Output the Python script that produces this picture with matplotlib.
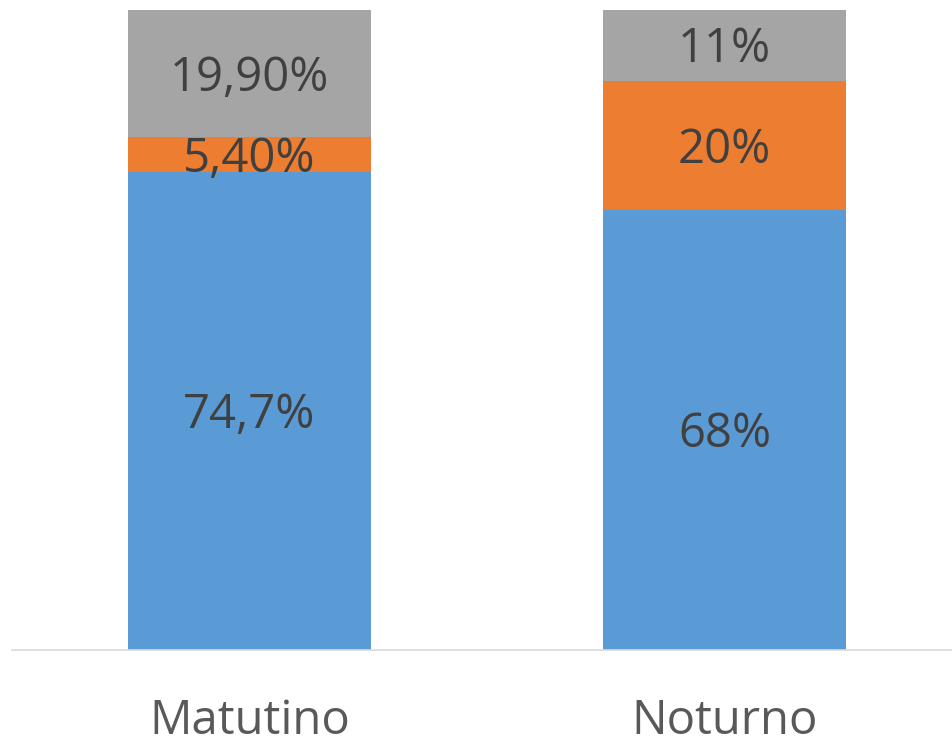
import matplotlib.pyplot as plt
import numpy as np

plt.rcParams['font.family'] = ['Open Sans', 'DejaVu Sans']

categories = ['Matutino', 'Noturno']
serie_1 = [74.7, 68]
serie_2 = [5.4, 20]
serie_3 = [19.9, 11]
labels_1 = ['74,7%', '68%']
labels_2 = ['5,40%', '20%']
labels_3 = ['19,90%', '11%']

colors = ['#5B9BD5', '#ED7D31', '#A5A5A5']

# 100% stacked: normalise each column
vals = np.array([serie_1, serie_2, serie_3], dtype=float)
shares = vals / vals.sum(axis=0)

fig = plt.figure(figsize=(9.53, 7.41), dpi=100)
ax = fig.add_axes([12 / 953, 1 - 650 / 741, (953 - 12) / 953, 640 / 741])

x = np.arange(len(categories))
bottom = np.zeros(len(categories))
for row, color, labs in zip(shares, colors, [labels_1, labels_2, labels_3]):
    bars = ax.bar(x, row, width=0.51, bottom=bottom, color=color, zorder=2)
    anns = ax.bar_label(bars, labels=labs, label_type='center', fontsize=34, color='#404040')
    for a in anns:
        a.xyann = (0, -3)
    bottom += row

ax.set_xlim(-0.5, 1.481)
ax.set_ylim(0, 1)
ax.set_yticks([])
ax.set_xticks(x)
ax.set_xticklabels(categories, fontsize=34, color='#595959')
ax.tick_params(axis='x', length=0, pad=34)
for s in ['top', 'right', 'left']:
    ax.spines[s].set_visible(False)
ax.spines['bottom'].set_color('#D9D9D9')
ax.spines['bottom'].set_linewidth(1.2)

fig.savefig('out.png', dpi=100)
